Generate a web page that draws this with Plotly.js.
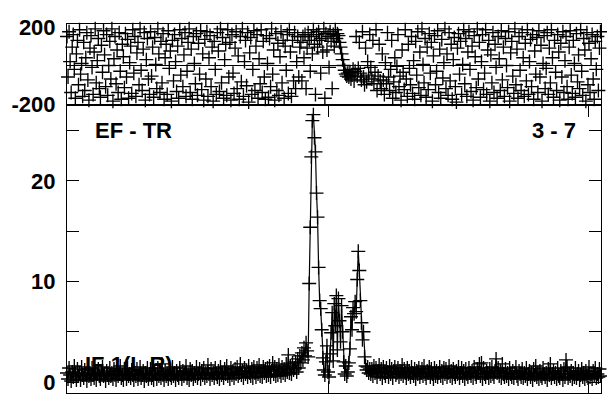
<!DOCTYPE html>
<html>
<head>
<meta charset="utf-8">
<script src="https://cdn.plot.ly/plotly-3.0.1.min.js"></script>
<style>html,body{margin:0;padding:0;background:#fff;}#chart{width:607px;height:398px;}</style>
</head>
<body>
<div id="chart"></div>
<script>
// Channel spacing of the spectrum (channel numbers 0, 4, 8, ...)
const channelStep = 4;

// Amplitude (lower panel), one value per channel
const amplitude = [
0.9,0.3,1.4,0.7,0.1,1.0,0.5,1.6,0.8,0.2,1.3,0.6,0.9,0.2,1.5,0.7,
0.4,1.2,0.8,0.1,1.3,0.6,0.9,0.3,1.4,0.7,0.4,1.1,0.2,0.8,1.3,0.6,
0.3,0.9,1.5,0.6,0.8,0.1,1.1,0.7,0.4,1.4,0.6,0.9,0.3,1.3,0.7,0.2,
1.1,0.6,0.8,1.6,0.4,0.7,0.2,1.3,0.9,0.3,1.4,0.6,0.8,0.4,1.2,0.7,
0.2,0.9,0.6,1.3,0.3,0.8,1.5,0.4,0.7,1.1,0.1,0.9,0.6,1.4,0.3,0.8,
1.3,0.4,0.7,0.2,1.1,0.8,0.3,1.4,0.6,0.9,0.4,1.8,0.7,0.2,1.1,0.6,
0.8,0.3,1.3,0.7,0.4,1.5,0.6,0.9,0.2,1.1,0.7,0.4,1.4,0.8,0.3,1.1,
0.6,0.9,1.6,0.4,0.8,0.2,1.3,0.7,1.1,0.3,0.9,0.6,1.5,0.4,0.8,1.3,
0.3,1.1,0.7,1.4,0.4,0.9,0.6,1.7,0.8,0.3,1.3,0.7,0.9,0.4,1.4,0.8,
0.5,1.1,0.3,1.5,0.7,0.9,0.4,1.3,0.8,1.6,0.6,0.9,0.3,1.4,0.7,1.1,
0.4,1.3,0.8,1.5,0.6,0.9,1.8,0.7,1.1,0.4,1.4,0.8,1.1,0.5,1.6,0.9,
0.6,1.3,0.4,1.5,0.9,0.5,1.4,0.8,1.7,0.6,1.1,0.5,1.5,0.9,1.3,0.6,
1.4,0.7,1.6,0.5,1.1,1.9,0.8,1.5,0.6,1.3,0.7,1.7,1.0,0.6,1.5,0.9,
1.3,0.7,1.8,1.0,2.7,0.9,1.6,0.8,1.9,1.2,1.4,2.0,1.0,2.3,1.4,2.6,
1.9,2.9,2.2,3.4,2.6,3.9,3.1,2.5,9.8,15.4,22.4,26.0,26.6,24.3,22.9,18.8,
16.4,11.4,8.1,7.3,5.2,2.4,1.2,0.7,2.0,3.6,1.0,0.5,2.8,4.9,6.9,2.1,
7.8,5.6,8.6,3.2,8.3,6.1,4.0,7.6,5.0,2.0,0.8,1.6,0.6,1.0,1.9,3.3,
6.5,5.2,7.4,6.8,8.0,7.0,10.2,13.0,11.1,8.1,5.9,4.2,5.0,2.5,1.6,1.2,
1.5,0.9,1.3,0.8,
1.3,0.6,1.6,0.9,1.4,0.5,1.1,1.7,0.8,1.3,0.4,1.5,0.9,0.6,1.4,1.0,
0.5,1.6,0.8,1.3,0.4,1.1,1.5,0.7,0.9,1.4,0.5,1.1,0.8,1.7,0.6,1.3,
0.9,0.4,1.4,0.8,1.1,0.5,1.5,0.9,0.6,1.3,0.3,1.1,0.8,1.4,0.5,0.9,
1.3,0.6,1.6,0.8,0.4,1.1,0.9,1.5,0.5,1.3,0.8,0.3,1.4,0.6,1.1,0.5,
0.9,1.5,0.6,1.1,0.4,1.4,0.8,1.3,0.5,0.9,1.6,0.6,1.1,0.4,1.3,0.8,
0.5,1.1,0.8,1.5,0.4,0.9,1.4,0.6,1.1,0.3,1.3,0.8,0.5,1.4,0.9,0.6,
1.1,0.4,1.5,0.8,0.5,1.3,0.9,1.8,0.6,1.9,0.3,1.4,0.8,0.5,1.1,0.9,
0.4,1.3,0.6,1.5,0.8,0.5,1.1,2.3,0.9,1.4,0.6,1.1,0.4,1.8,0.8,0.5,
1.3,0.6,0.9,0.3,1.4,0.8,0.5,1.1,0.4,0.9,1.5,0.6,0.3,1.1,0.8,0.5,
1.3,0.4,0.9,0.6,1.4,0.3,0.8,1.1,0.5,0.9,0.2,1.3,0.7,1.6,0.5,0.9,
0.3,1.1,0.6,0.4,1.4,0.8,0.5,0.9,0.2,1.3,0.7,1.8,0.4,0.8,1.1,0.5,
0.9,0.3,1.4,0.6,0.4,1.1,0.8,0.2,1.3,0.5,2.2,1.5,0.4,0.8,0.6,1.1,
0.3,0.9,0.5,1.4,0.4,0.8,1.1,0.2,0.7,1.3,0.5,0.9,0.3,1.1,0.6,0.4,
1.5,0.5,0.8,0.3,1.1,0.6,1.4,0.4,0.8,0.5,1.3,0.6
];

// Phase in degrees (upper panel), one value per channel
const phase = [
150,-60,175,20,-140,95,160,-20,-170,60,130,-100,185,-45,10,-160,
120,-130,40,170,-75,-180,90,155,-10,-150,70,190,-90,25,140,-120,
-165,105,-35,180,55,-110,160,-155,0,125,-70,190,-185,35,150,-95,
80,-140,170,-30,-175,110,45,-115,165,-60,135,-170,15,100,-145,185,
-40,150,-160,65,120,-100,190,-25,-130,85,170,-180,30,140,-70,-150,
175,-55,95,-165,145,5,-120,190,60,-140,125,-90,165,-175,40,110,
-150,180,-15,75,-185,130,-80,160,20,-135,100,-170,185,-50,140,-110,
55,170,-160,-30,120,190,-140,85,-175,150,10,-95,165,-155,115,-45,
180,-125,60,-180,135,-70,175,-160,40,155,-110,95,-185,125,-20,-150,
170,75,-135,190,-90,145,-170,30,110,-155,185,-60,120,-180,160,-40,
-145,90,175,-120,50,-175,150,-85,190,-160,20,130,-105,170,-190,65,
145,-150,-20,180,-130,100,160,-170,35,-95,185,-140,125,-60,-175,155,
10,-165,140,-110,190,-45,80,-180,165,-130,115,-155,45,175,-90,130,
-170,100,-25,160,-145,185,70,-160,130,-80,170,-120,20,150,-60,95,
120,-80,150,40,160,-120,90,170,130,-30,
150,60,185,110,-150,160,95,175,130,-40,140,70,190,-170,165,80,150,-10,175,125,-120,160,100,185,140,
165,155,120,95,60,30,0,-25,-45,-55,-40,-60,-35,-70,-50,-20,-80,
-30,150,-55,-15,120,-40,-75,175,-60,-100,90,-85,20,-50,160,-10,-70,130,-95,-35,185,-130,-55,110,-80,
-120,60,-75,-150,15,-95,170,-60,-130,-20,130,-170,-85,40,-140,-5,
160,-110,-55,-180,80,-35,-125,185,-70,-160,110,-15,-100,150,-145,25,
-175,125,-50,175,-115,70,-155,190,5,-90,140,-165,95,-125,165,-40,
120,-185,50,155,-100,-30,180,-140,85,-170,135,-65,15,190,-120,60,
-155,170,-80,110,-175,30,145,-110,-190,90,165,-45,125,-150,5,185,
-95,140,-160,70,175,-20,-135,100,-180,155,45,-115,190,-70,120,-165,
20,160,-125,-40,185,-150,80,130,-185,55,-90,170,-140,110,-10,-170,
150,35,-130,180,-75,95,-160,140,0,-115,175,-185,65,125,-55,-145,
190,-100,85,-170,150,-25,-130,170,40,-160,115,-80,185,-150,20,135,
-110,160,-175,75,-45,145,-140,180,-60,105,-185,10,155,-120,-15,170,
-150,90,-90,185,40,-165,130,-35,-130,160,70,-180,115,-60,175,-140,
25,150,-110,-175,95,180,-50,-145,130,10,-165,165,-85,55,-120,185,
-30,-155,140,80,-185,170,-100,115,-140,35,160,-70,-175,125,-20,150,
-130,90,175
];

// Axis ticks
const xTickVals = [0, 1000, 2000];
const ampTickVals = [0, 5, 10, 15, 20, 25];
const ampTickText = ['0', '', '10', '', '20', ''];
const phaseTickVals = [-200, 200];
const phaseTickText = ['-200', '200'];

// Panel labels
const labelBaseline = 'EF - TR';
const labelScan = '3 - 7';
const labelIF = 'IF 1(L R)';

const channels = amplitude.map((_, i) => i * channelStep);

const FONT = {family: '"Liberation Sans", Arial, Helvetica, sans-serif', size: 22, color: '#000', weight: 'bold'};
const crossMarker = {symbol: 'cross-thin', size: 10, color: '#000', line: {color: '#000', width: 1.35}};

const traces = [
  {
    x: channels, y: amplitude, xaxis: 'x', yaxis: 'y',
    type: 'scatter', mode: 'lines+markers',
    line: {color: '#000', width: 1.2},
    marker: crossMarker, cliponaxis: false, hoverinfo: 'skip'
  },
  {
    x: channels, y: phase, xaxis: 'x2', yaxis: 'y2',
    type: 'scatter', mode: 'markers',
    marker: crossMarker, cliponaxis: false, hoverinfo: 'skip'
  }
];

const split = 0.7805;
const layout = {
  width: 607, height: 398,
  margin: {l: 67, r: 6, t: 24, b: 5, pad: 0},
  paper_bgcolor: '#fff', plot_bgcolor: '#fff',
  showlegend: false,
  font: FONT,
  xaxis: {
    domain: [0, 1], anchor: 'y', range: [0, 2046],
    tickvals: xTickVals, ticks: 'inside', ticklen: 12, tickwidth: 1, tickcolor: '#000',
    showticklabels: false, showgrid: false, zeroline: false,
    showline: true, linecolor: '#000', linewidth: 1, mirror: 'ticks'
  },
  yaxis: {
    domain: [0, split], anchor: 'x', range: [-1.09, 27.56],
    tickvals: ampTickVals, ticktext: ampTickText,
    ticks: 'inside', ticklen: 12, tickwidth: 1, tickcolor: '#000',
    tickfont: FONT, ticklabelstandoff: 6,
    showgrid: false, zeroline: false,
    showline: true, linecolor: '#000', linewidth: 1, mirror: 'ticks'
  },
  xaxis2: {
    domain: [0, 1], anchor: 'y2', range: [0, 2046],
    ticks: '', showticklabels: false, showgrid: false, zeroline: false,
    showline: true, linecolor: '#000', linewidth: 1, mirror: true
  },
  yaxis2: {
    domain: [split, 1], anchor: 'x2', range: [-205, 215],
    tickvals: phaseTickVals, ticktext: phaseTickText,
    ticks: '', tickfont: FONT, ticklabelstandoff: 6,
    showgrid: false, zeroline: true, zerolinecolor: '#000', zerolinewidth: 1,
    showline: true, linecolor: '#000', linewidth: 1, mirror: true
  },
  annotations: [
    {text: labelBaseline, xref: 'paper', yref: 'paper', x: 0.0487, y: 0.7127,
     xanchor: 'left', yanchor: 'middle', showarrow: false, font: FONT},
    {text: labelScan, xref: 'paper', yref: 'paper', x: 0.957, y: 0.7127,
     xanchor: 'right', yanchor: 'middle', showarrow: false, font: FONT},
    {text: labelIF, xref: 'paper', yref: 'paper', x: 0.030, y: 0.0759,
     xanchor: 'left', yanchor: 'middle', showarrow: false, font: FONT}
  ]
};

Plotly.newPlot('chart', traces, layout, {staticPlot: true, displayModeBar: false});
</script>
</body>
</html>
